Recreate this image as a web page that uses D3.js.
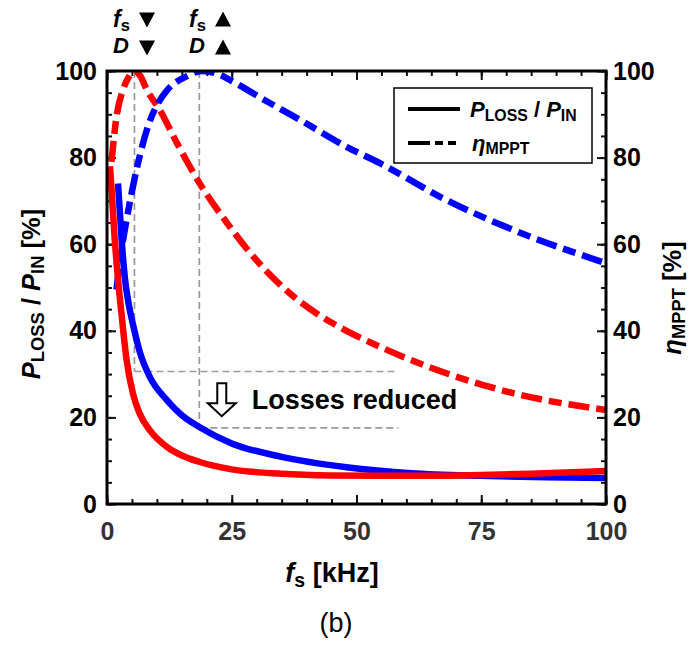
<!DOCTYPE html>
<html>
<head>
<meta charset="utf-8">
<script src="https://cdn.jsdelivr.net/npm/d3@7"></script>
<style>
  body { margin: 0; background: #fff; }
  text { font-family: 'Liberation Sans', Arial, sans-serif; }
</style>
</head>
<body>
<div id="chart"><svg></svg></div>
<script>
// frequency (kHz) / percentage pairs
const redLoss = [[0.6, 78], [1.0, 71], [1.5, 62], [2.2, 52], [2.9, 44], [3.9, 33.5], [5.2, 25.5], [6.5, 21], [8.6, 17], [12, 13.2], [15, 11.2], [18.6, 9.7], [25, 8], [35, 7], [45, 6.6], [55, 6.5], [65, 6.5], [75, 6.7], [85, 7], [100, 7.6]]
const blueLoss = [[2.2, 74], [2.6, 67], [3, 60], [3.6, 52], [4.3, 46.5], [5.2, 41.5], [6.6, 35], [8.6, 29.3], [12, 24], [15, 20.5], [18.5, 17.8], [25, 14], [35, 10.9], [48, 8.5], [61, 7.1], [75, 6.5], [88, 6.2], [100, 6.0]]
const redEff = [[0.9, 79], [1.9, 89.4], [3.2, 95.6], [4.3, 98.5], [5.5, 100], [6.7, 98.8], [8, 95.6], [10.6, 91], [14, 83.4], [18.6, 74], [24, 65], [28.7, 58], [35.3, 50], [42, 44], [48, 40], [54.7, 36.3], [68, 30.2], [81.4, 25.6], [100, 21.7]]
const blueEff = [[1.9, 49.5], [2.6, 56], [3.3, 61.5], [4.3, 68], [5.5, 75], [6.8, 81.5], [8.6, 88.5], [10.2, 92.5], [12, 95.5], [16, 98.8], [19, 100], [22, 99.4], [25.3, 97.5], [32, 93], [38.7, 88.7], [48, 82.5], [54.7, 78.7], [68, 70.2], [81.4, 63.3], [100, 55.6]]

// guide lines: optimum frequencies and the loss levels there
const markerFreq = [5.5, 18.5]
const markerLoss = [30.6, 17.6]
const markerEnd = 58.4

const xTicks = [0, 25, 50, 75, 100]
const yTicks = [0, 20, 40, 60, 80, 100]

const margin = { top: 71, right: 86, bottom: 143, left: 107 }
const width = 692 - margin.left - margin.right
const height = 647 - margin.top - margin.bottom

const svg = d3.select('#chart').select('svg')
  .attr('width', 692)
  .attr('height', 647)

const g = svg.append('g')
  .attr('transform', `translate(${margin.left},${margin.top})`)

const x = d3.scaleLinear().domain([0, 100]).range([0, width])
const y = d3.scaleLinear().domain([0, 100]).range([height, 0])

svg.append('defs').append('clipPath')
  .attr('id', 'plot-clip')
  .append('rect')
  .attr('width', width)
  .attr('height', height)

// minor ticks every 5
function minorAxis (axis, scale) {
  return axis(scale).tickValues(d3.range(0, 101, 5)).tickSize(-5).tickFormat('')
}
g.append('g').attr('class', 'minor').call(minorAxis(d3.axisLeft, y))
g.append('g').attr('class', 'minor').attr('transform', `translate(${width},0)`).call(minorAxis(d3.axisRight, y))
g.append('g').attr('class', 'minor').attr('transform', `translate(0,${height})`).call(minorAxis(d3.axisBottom, x))
g.append('g').attr('class', 'minor').call(minorAxis(d3.axisTop, x))

const yLeft = g.append('g')
  .call(d3.axisLeft(y).tickValues(yTicks).tickSize(-9).tickPadding(10))
const yRight = g.append('g')
  .attr('transform', `translate(${width},0)`)
  .call(d3.axisRight(y).tickValues(yTicks).tickSize(-9).tickPadding(7))
const xBottom = g.append('g')
  .attr('transform', `translate(0,${height})`)
  .call(d3.axisBottom(x).tickValues(xTicks).tickSize(-9).tickPadding(18))
g.append('g')
  .call(d3.axisTop(x).tickValues(xTicks).tickSize(-9).tickFormat(''))

g.selectAll('.domain').remove()
g.selectAll('.tick line').attr('stroke', '#111').attr('stroke-width', 2)
yLeft.selectAll('text').attr('font-size', 25).attr('font-weight', 'bold').attr('fill', '#000')
yRight.selectAll('text').attr('font-size', 25).attr('font-weight', 'bold').attr('fill', '#000')
xBottom.selectAll('text').attr('font-size', 25).attr('font-weight', 'bold').attr('fill', '#333')

// gray guide lines
const guides = g.append('g')
  .attr('stroke', '#9a9a9a')
  .attr('stroke-width', 1.7)
  .attr('stroke-dasharray', '7,4')
  .attr('fill', 'none')
markerFreq.forEach((f, i) => {
  guides.append('line')
    .attr('x1', x(f)).attr('x2', x(f))
    .attr('y1', 0).attr('y2', y(markerLoss[i]))
  guides.append('line')
    .attr('x1', x(f)).attr('x2', x(markerEnd))
    .attr('y1', y(markerLoss[i])).attr('y2', y(markerLoss[i]))
})

const line = d3.line()
  .x(d => x(d[0]))
  .y(d => y(d[1]))
  .curve(d3.curveMonotoneX)

const dash = '21,7,13,7'
const curves = g.append('g').attr('clip-path', 'url(#plot-clip)')
const series = [
  { data: redEff, color: '#ff0000', dashed: true },
  { data: blueEff, color: '#0000ff', dashed: true },
  { data: blueLoss, color: '#0000ff', dashed: false },
  { data: redLoss, color: '#ff0000', dashed: false }
]
series.forEach(s => {
  curves.append('path')
    .datum(s.data)
    .attr('d', line)
    .attr('fill', 'none')
    .attr('stroke', s.color)
    .attr('stroke-width', 6.5)
    .attr('stroke-dasharray', s.dashed ? dash : null)
})

// frame
g.append('rect')
  .attr('width', width)
  .attr('height', height)
  .attr('fill', 'none')
  .attr('stroke', '#000')
  .attr('stroke-width', 3)

// "Losses reduced" annotation with hollow arrow
const ax = x(23)
const ay = y(27.9)
g.append('path')
  .attr('transform', `translate(${ax},${ay})`)
  .attr('d', 'M-4.5,0 H4.5 V20 H14 L0,33 L-14,20 H-4.5 Z')
  .attr('fill', '#fff')
  .attr('stroke', '#000')
  .attr('stroke-width', 2)
g.append('text')
  .attr('x', x(29))
  .attr('y', y(22))
  .attr('font-size', 27)
  .attr('font-weight', 'bold')
  .text('Losses reduced')

// legend
const legend = g.append('g').attr('transform', 'translate(287,17)')
legend.append('rect')
  .attr('width', 198)
  .attr('height', 75)
  .attr('fill', '#fff')
  .attr('stroke', '#000')
  .attr('stroke-width', 1.5)
legend.append('line')
  .attr('x1', 14).attr('x2', 66).attr('y1', 21).attr('y2', 21)
  .attr('stroke', '#000').attr('stroke-width', 4)
legend.append('line')
  .attr('x1', 14).attr('x2', 66).attr('y1', 55).attr('y2', 55)
  .attr('stroke', '#000').attr('stroke-width', 4)
  .attr('stroke-dasharray', '22,5,8,5,8,5')

function subText (sel, parts) {
  parts.forEach(p => {
    sel.append('tspan')
      .attr('font-style', p.italic ? 'italic' : null)
      .attr('font-size', p.sub ? '0.72em' : null)
      .attr('dy', p.dy || null)
      .text(p.t)
  })
  return sel
}

subText(legend.append('text').attr('x', 76).attr('y', 29).attr('font-size', 22).attr('font-weight', 'bold'), [
  { t: 'P', italic: true },
  { t: 'LOSS', sub: true, dy: 4 },
  { t: ' / ', dy: -4 },
  { t: 'P', italic: true },
  { t: 'IN', sub: true, dy: 4 }
])
subText(legend.append('text').attr('x', 78).attr('y', 63).attr('font-size', 22).attr('font-weight', 'bold'), [
  { t: 'η', italic: true },
  { t: 'MPPT', sub: true, dy: 3 }
])

// axis titles
subText(svg.append('text')
  .attr('text-anchor', 'middle')
  .attr('transform', 'translate(40,294) rotate(-90)')
  .attr('font-size', 25.5).attr('font-weight', 'bold'), [
  { t: 'P', italic: true },
  { t: 'LOSS', sub: true, dy: 4 },
  { t: ' / ', dy: -4 },
  { t: 'P', italic: true },
  { t: 'IN', sub: true, dy: 4 },
  { t: ' [%]', dy: -4 }
])
subText(svg.append('text')
  .attr('text-anchor', 'middle')
  .attr('transform', 'translate(681,298) rotate(-90)')
  .attr('font-size', 25.5).attr('font-weight', 'bold'), [
  { t: 'η', italic: true },
  { t: 'MPPT', sub: true, dy: 4 },
  { t: ' [%]', dy: -4 }
])
subText(svg.append('text')
  .attr('text-anchor', 'middle')
  .attr('x', 332).attr('y', 582)
  .attr('font-size', 27).attr('font-weight', 'bold'), [
  { t: 'f', italic: true },
  { t: 's', sub: true, dy: 5 },
  { t: ' [kHz]', dy: -5 }
])
svg.append('text')
  .attr('x', 336).attr('y', 632)
  .attr('text-anchor', 'middle')
  .attr('font-family', "'Liberation Serif', 'Times New Roman', serif")
  .attr('font-size', 27)
  .text('(b)')

// top annotations: fs / D direction markers
const tri = (cx, cy, up) => up
  ? `M${cx - 8},${cy + 7} L${cx + 8},${cy + 7} L${cx},${cy - 8} Z`
  : `M${cx - 8},${cy - 7} L${cx + 8},${cy - 7} L${cx},${cy + 8} Z`
const marks = [{ x0: 113, up: false }, { x0: 189, up: true }]
marks.forEach(m => {
  subText(svg.append('text').attr('x', m.x0).attr('y', 27).attr('font-size', 23).attr('font-weight', 'bold'), [
    { t: 'f', italic: true },
    { t: 's', sub: true, dy: 4 }
  ])
  svg.append('text').attr('x', m.x0).attr('y', 53)
    .attr('font-size', 22).attr('font-weight', 'bold').attr('font-style', 'italic')
    .text('D')
  svg.append('path').attr('d', tri(m.x0 + 34, 19.5, m.up)).attr('fill', '#000')
  svg.append('path').attr('d', tri(m.x0 + 34, 47.5, m.up)).attr('fill', '#000')
})
</script>
</body>
</html>
